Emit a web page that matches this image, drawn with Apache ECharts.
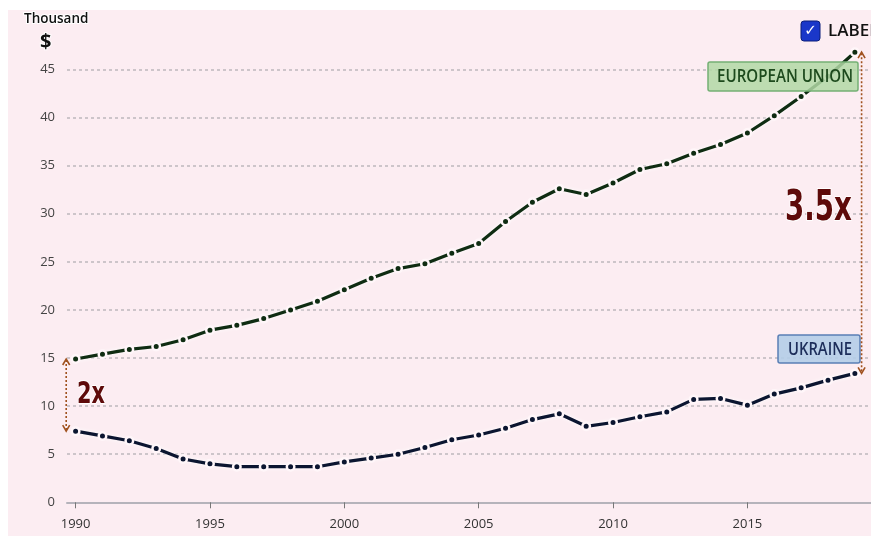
<!DOCTYPE html>
<html>
<head>
<meta charset="utf-8">
<script src="https://cdn.jsdelivr.net/npm/echarts@6/dist/echarts.min.js"></script>
<style>
html,body{margin:0;padding:0;background:#ffffff;}
#chart{width:871px;height:536px;}
</style>
</head>
<body>
<div id="chart"></div>
<script>
// ---- data ----
var years = [1990,1991,1992,1993,1994,1995,1996,1997,1998,1999,2000,2001,2002,2003,2004,2005,2006,2007,2008,2009,2010,2011,2012,2013,2014,2015,2016,2017,2018,2019];
var euValues = [14.9,15.4,15.9,16.2,16.9,17.9,18.4,19.1,20.0,20.9,22.1,23.3,24.3,24.8,25.9,26.9,29.2,31.2,32.6,32.0,33.2,34.6,35.2,36.3,37.2,38.4,40.2,42.2,44.3,46.8];
var ukValues = [7.4,6.9,6.4,5.6,4.5,4.0,3.7,3.7,3.7,3.7,4.2,4.6,5.0,5.7,6.5,7.0,7.7,8.6,9.2,7.9,8.3,8.9,9.4,10.7,10.8,10.1,11.25,11.9,12.7,13.4];
var xTickLabels = [1990,1995,2000,2005,2010,2015];
var seriesNames = ['EUROPEAN UNION','UKRAINE'];
var ratioLabels = ['2x','3.5x'];
var unitLabels = ['Thousand','$'];
var legendLabel = 'LABEL';
// arrow x positions (in years) for the ratio markers
var arrowYears = [1989.65, 2019.25];

function pairs(xs, ys){ return xs.map(function(x,i){ return [x, ys[i]]; }); }

var measureCtx = document.createElement('canvas').getContext('2d');
function fitScale(text, font, targetWidth){
  measureCtx.font = font;
  var w = measureCtx.measureText(text).width;
  return w > 0 ? targetWidth / w : 1;
}

var chart = echarts.init(document.getElementById('chart'), null, {renderer:'canvas'});

var option = {
  backgroundColor: 'transparent',
  animation: false,
  grid: {left: 67, right: 0, top: 69.5, bottom: 33.7, containLabel: false},
  xAxis: {
    type: 'value',
    min: 1989.68,
    max: 2019.6,
    axisLine: {show: true, lineStyle: {color: '#b5b3bb', width: 2}},
    axisTick: {show: true, customValues: xTickLabels, length: 6, lineStyle: {color: '#777', width: 1}},
    axisLabel: {customValues: xTickLabels, margin: 15, color: '#333', fontSize: 13, fontFamily: '"Open Sans",sans-serif', formatter: function(v){return String(v);}},
    splitLine: {show: false}
  },
  yAxis: {
    type: 'value',
    min: 0,
    max: 45,
    interval: 5,
    axisLine: {show: false},
    axisTick: {show: false},
    axisLabel: {margin: 12, color: '#444', fontSize: 13, fontFamily: '"Open Sans",sans-serif'},
    splitLine: {show: true, lineStyle: {color: '#bdb8bd', type: [3,3], width: 1.5}}
  },
  series: [
    {
      name: seriesNames[0],
      type: 'line',
      data: pairs(years, euValues),
      clip: false,
      z: 3,
      symbol: 'circle',
      symbolSize: 7.5,
      showSymbol: true,
      lineStyle: {color: '#0f2c12', width: 3.2, shadowColor: '#ffffff', shadowBlur: 4},
      itemStyle: {color: '#0f2c12', borderColor: '#fff6f9', borderWidth: 2.5}
    },
    {
      name: seriesNames[1],
      type: 'line',
      data: pairs(years, ukValues),
      clip: false,
      z: 3,
      symbol: 'circle',
      symbolSize: 7.5,
      showSymbol: true,
      lineStyle: {color: '#0b1530', width: 3.2, shadowColor: '#ffffff', shadowBlur: 4},
      itemStyle: {color: '#0b1530', borderColor: '#fff6f9', borderWidth: 2.5}
    }
  ]
};
chart.setOption(option);

// ---- annotations ----
var annFontW = '600 ';
var boxFont = '600 18px "Open Sans",sans-serif';
var bigFont = 'bold 42px "DejaVu Sans",sans-serif';
var midFont = 'bold 30px "DejaVu Sans",sans-serif';

var graphics = [
  {type: 'rect', z: -10, silent: true, shape: {x: 8, y: 10, width: 863, height: 526}, style: {fill: '#fcedf2'}},
  {type: 'text', left: 23, top: 11, z: 10, style: {text: unitLabels[0], font: '600 13.5px "Open Sans",sans-serif', fill: '#111', stroke: '#fff', lineWidth: 2}},
  {type: 'text', left: 39, top: 31, z: 10, style: {text: unitLabels[1], font: 'bold 20px "Open Sans",sans-serif', fill: '#111', stroke: '#fff', lineWidth: 2}},
  // legend checkbox
  {type: 'rect', z: 10, shape: {x: 801, y: 21, width: 19, height: 20, r: 3}, style: {fill: '#1a37c9', stroke: '#0b1f7a', lineWidth: 1}},
  {type: 'text', x: 810.5, y: 31, z: 11, style: {text: '✓', font: 'bold 15px "DejaVu Sans",sans-serif', fill: '#fff', align: 'center', verticalAlign: 'middle'}},
  {type: 'text', x: 828, y: 31, z: 10, style: {text: legendLabel, font: '600 17px "Open Sans",sans-serif', fill: '#111', verticalAlign: 'middle'}},
  // series name boxes
  {type: 'rect', z: 5, shape: {x: 708, y: 62, width: 150, height: 29, r: 2}, style: {fill: 'rgba(178,216,166,0.85)', stroke: '#74b074', lineWidth: 1.5}},
  {type: 'text', x: 717, y: 77, z: 6, scaleX: fitScale(seriesNames[0], boxFont, 136), style: {text: seriesNames[0], font: boxFont, fill: '#1d4a1d', verticalAlign: 'middle'}},
  {type: 'rect', z: 5, shape: {x: 778, y: 335, width: 82, height: 28, r: 2}, style: {fill: 'rgba(180,205,232,0.9)', stroke: '#5a7fb5', lineWidth: 1.5}},
  {type: 'text', x: 788, y: 349.5, z: 6, scaleX: fitScale(seriesNames[1], boxFont, 64), style: {text: seriesNames[1], font: boxFont, fill: '#1c2d5a', verticalAlign: 'middle'}},
  // ratio labels
  {type: 'text', x: 77, y: 395, z: 10, scaleX: fitScale(ratioLabels[0], midFont, 28), style: {text: ratioLabels[0], font: midFont, fill: '#5e0a0a', stroke: '#ffffff', lineWidth: 2, verticalAlign: 'middle'}},
  {type: 'text', x: 785, y: 209, z: 10, scaleX: fitScale(ratioLabels[1], bigFont, 67), style: {text: ratioLabels[1], font: bigFont, fill: '#5e0a0a', stroke: '#ffffff', lineWidth: 2, verticalAlign: 'middle'}}
];

function addArrow(xVal, yTop, yBot){
  var a = chart.convertToPixel({gridIndex: 0}, [xVal, yTop]);
  var b = chart.convertToPixel({gridIndex: 0}, [xVal, yBot]);
  var col = '#a0521f';
  graphics.push({type: 'line', z: 8, shape: {x1: a[0], y1: a[1] + 1, x2: b[0], y2: b[1] - 1}, style: {stroke: col, lineWidth: 1.6, lineDash: [2,2]}});
  graphics.push({type: 'polyline', z: 8, shape: {points: [[a[0]-3.5, a[1]+6], [a[0], a[1]], [a[0]+3.5, a[1]+6]]}, style: {stroke: col, lineWidth: 1.6, fill: null}});
  graphics.push({type: 'polyline', z: 8, shape: {points: [[b[0]-3.5, b[1]-6], [b[0], b[1]], [b[0]+3.5, b[1]-6]]}, style: {stroke: col, lineWidth: 1.6, fill: null}});
}
addArrow(arrowYears[0], euValues[0], ukValues[0]);
addArrow(arrowYears[1], euValues[euValues.length-1], ukValues[ukValues.length-1]);

chart.setOption({graphic: graphics});
</script>
</body>
</html>
